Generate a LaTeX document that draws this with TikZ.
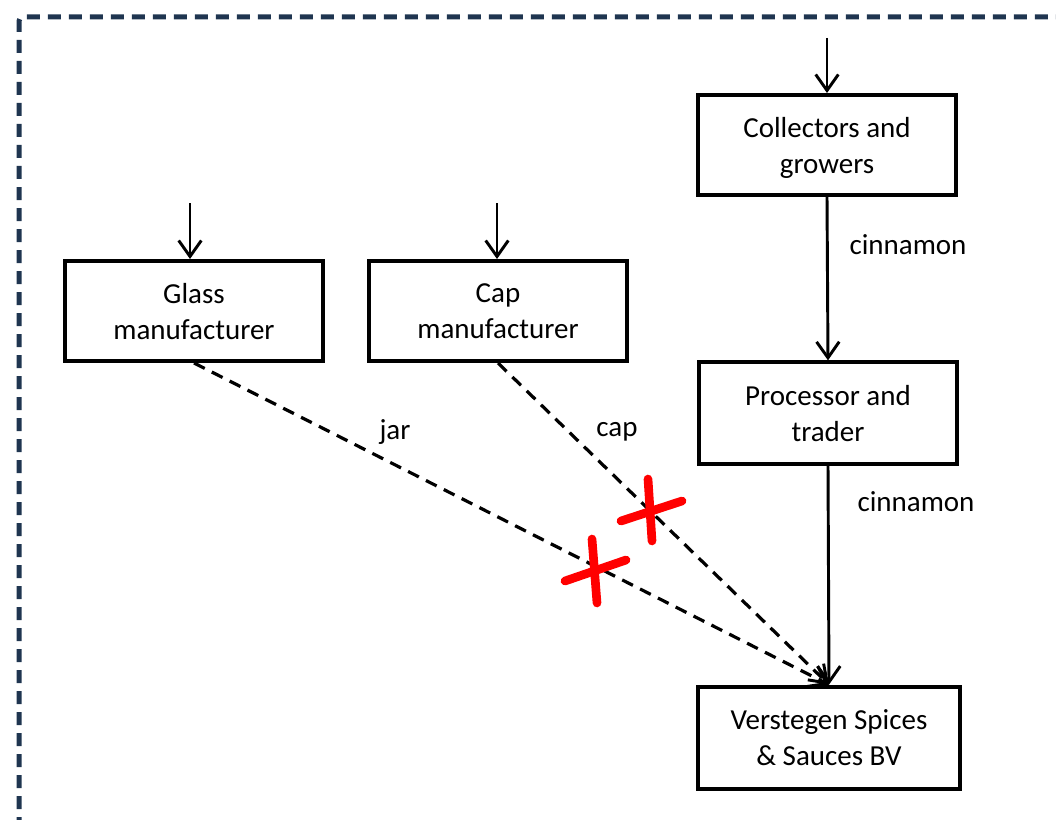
\documentclass[tikz,border=0pt]{standalone}
\usepackage{fontspec}
\setmainfont{Carlito}
\usetikzlibrary{arrows.meta}
\definecolor{bordernavy}{HTML}{1F3550}
\tikzset{
  box/.style={draw=black, line width=3pt, minimum width=193pt, minimum height=75pt, align=center, inner sep=0pt,
    font=\fontsize{21.75}{27}\selectfont, text depth=-4pt},
  lbl/.style={font=\fontsize{21.75}{27}\selectfont, inner sep=0pt},
  flow/.style={line width=2.2pt, -{Straight Barb[length=12pt,width=17pt,line width=2.2pt]}},
  dflow/.style={line width=2.4pt, dash pattern=on 9pt off 6pt, -{Straight Barb[length=12pt,width=17pt,line width=2.2pt]}},
  cross/.style={red, line width=6.5pt, line cap=round},
  frame/.style={bordernavy, line width=3.75pt, dash pattern=on 9.75pt off 6pt, rounded corners=3pt}
}
\begin{document}
\begin{tikzpicture}[x=0.75pt,y=-0.75pt]
\useasboundingbox (0,0) rectangle (1056,820);
\draw[frame] (19,830) -- (19,17) -- (1066,17);

\node[box, minimum width=194pt, text depth=-1.5pt] (coll) at (827,145) {Collectors and\\growers};
\node[box] (glass) at (194,311) {Glass\\manufacturer};
\node[box] (cap) at (498,311) {Cap\\manufacturer};
\node[box, minimum width=194pt, minimum height=76pt] (proc) at (828,413) {Processor and\\trader};
\node[box, minimum width=196pt, minimum height=77pt] (vers) at (829,738) {Verstegen Spices\\\& Sauces BV};

\coordinate (incoll) at (827,38);
\coordinate (inglass) at (190,203);
\coordinate (incap) at (497,203);
\draw[flow] (incoll) -- (coll.north);
\draw[flow] (inglass) -- (inglass |- glass.north);
\draw[flow] (incap) -- (incap |- cap.north);

\draw[flow] (coll.south) -- (proc.north);
\draw[flow] (proc.south) -- (vers.north);
\draw[dflow] (glass.south) -- (vers.north);
\draw[dflow] (cap.south) -- (vers.north);

\node[lbl] (l1) at (908,245) {cinnamon};
\node[lbl] (l2) at (916,502) {cinnamon};
\node[lbl] (l3) at (395,432) {jar};
\node[lbl] (l4) at (617,432) {cap};

\draw[cross] (592,539) -- (597,603);
\draw[cross] (565,581) -- (626,560);
\draw[cross] (648,479) -- (652,541);
\draw[cross] (621,521) -- (682,501);
\end{tikzpicture}
\end{document}
